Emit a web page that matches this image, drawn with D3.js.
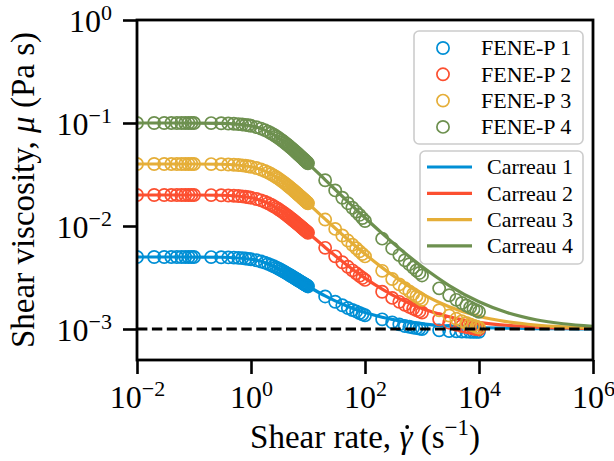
<!DOCTYPE html>
<html lang="en">

<head>
    <meta charset="UTF-8">
    <title>Shear viscosity: FENE-P vs Carreau</title>
    <!--D3 library-->
    <script src="https://cdn.jsdelivr.net/npm/d3@7"></script>
    <style>
        body { margin: 0; background: #fff; }
        svg { display: block; font-family: "Liberation Serif", "Times New Roman", serif; }
    </style>
</head>

<body>

</body>
<script>

    // FENE-P simulation points (shear rate in 1/s, viscosity in Pa s)
    const shearRateFene = [
        0.01, 0.02, 0.03, 0.04, 0.05, 0.06, 0.07, 0.08, 0.09,
        0.1, 0.2, 0.3, 0.4, 0.5, 0.6, 0.7, 0.8, 0.9,
        1, 1.25, 1.5, 1.75, 2, 2.25, 2.5, 2.75, 3, 3.25, 3.5, 3.75, 4, 4.25, 4.5, 4.75,
        5, 5.25, 5.5, 5.75, 6, 6.25, 6.5, 6.75, 7, 7.25, 7.5, 7.75, 8, 8.25, 8.5, 8.75, 9, 9.25, 9.5, 9.75,
        10, 20, 30, 40, 50, 60, 70, 80, 90,
        100, 200, 300, 400, 500, 600, 700, 800, 900,
        1000, 2000, 3000, 4000, 5000, 6000, 7000, 8000, 9000,
        10000
    ];

    const feneP1 = [
        0.005, 0.005, 0.005, 0.005, 0.005, 0.005, 0.005, 0.005, 0.005,
        0.004997, 0.004989, 0.004975, 0.004956, 0.004932, 0.004903, 0.004871, 0.004835, 0.004796,
        0.004754, 0.004643, 0.004524, 0.004405, 0.004287, 0.004174, 0.004065, 0.003963, 0.003867, 0.003777, 0.003692, 0.003614,
        0.00354, 0.003471, 0.003406, 0.003345, 0.003288, 0.003235, 0.003184, 0.003136, 0.003091, 0.003048, 0.003007, 0.002969,
        0.002932, 0.002897, 0.002864, 0.002832, 0.002802, 0.002773, 0.002745, 0.002718, 0.002693, 0.002668, 0.002644, 0.002622,
        0.00259, 0.00207, 0.00184, 0.0017, 0.0016, 0.00153, 0.00148, 0.00143, 0.00139,
        0.00136, 0.00124, 0.00116, 0.00111, 0.00107, 0.00105, 0.00103, 0.00102, 0.00101,
        0.001, 0.00097, 0.000955, 0.00095, 0.000945, 0.000942, 0.00094, 0.00094, 0.00094,
        0.00094
    ];

    const feneP2 = [
        0.02, 0.02, 0.02, 0.02, 0.02, 0.02, 0.02, 0.02, 0.02,
        0.01999, 0.01995, 0.01988, 0.01979, 0.01968, 0.01954, 0.01939, 0.01922, 0.01903,
        0.01883, 0.0183, 0.01774, 0.01717, 0.01661, 0.01607, 0.01556, 0.01508, 0.01462, 0.01419, 0.01379, 0.01341,
        0.01306, 0.01274, 0.01243, 0.01214, 0.01187, 0.01162, 0.01137, 0.01115, 0.01093, 0.01073, 0.01053, 0.01035,
        0.01018, 0.01001, 0.009854, 0.009704, 0.00956, 0.009421, 0.009288, 0.009161, 0.009041, 0.008923, 0.008811, 0.008703,
        0.0086, 0.006135, 0.005071, 0.004441, 0.004015, 0.003709, 0.003475, 0.003284, 0.00313,
        0.002997, 0.002301, 0.002005, 0.001835, 0.00172, 0.001637, 0.001574, 0.001523, 0.001482,
        0.001447, 0.001242, 0.001151, 0.001101, 0.001068, 0.001044, 0.001026, 0.001012, 0.000999,
        0.00099
    ];

    const feneP3 = [
        0.04, 0.04, 0.04, 0.04, 0.04, 0.04, 0.04, 0.04, 0.04,
        0.03997, 0.03989, 0.03975, 0.03957, 0.03933, 0.03906, 0.03874, 0.03839, 0.03801,
        0.03761, 0.03652, 0.03536, 0.0342, 0.03305, 0.03194, 0.03089, 0.02989, 0.02895, 0.02807, 0.02725, 0.02648,
        0.02577, 0.02509, 0.02446, 0.02387, 0.02331, 0.02279, 0.02229, 0.02183, 0.02139, 0.02097, 0.02057, 0.0202,
        0.01984, 0.0195, 0.01917, 0.01887, 0.01857, 0.01828, 0.01801, 0.01775, 0.0175, 0.01726, 0.01703, 0.01681,
        0.0166, 0.01155, 0.00937, 0.00809, 0.00722, 0.00658, 0.00608, 0.00568, 0.00535,
        0.00507, 0.00367, 0.00306, 0.00271, 0.00249, 0.00232, 0.00219, 0.00208, 0.002,
        0.00192, 0.00152, 0.00135, 0.001256, 0.001189, 0.001144, 0.001108, 0.001078, 0.001052,
        0.00103
    ];

    const feneP4 = [
        0.1, 0.1, 0.1, 0.1, 0.1, 0.1, 0.1, 0.1, 0.1,
        0.09993, 0.09972, 0.09938, 0.0989, 0.09831, 0.0976, 0.0968, 0.09591, 0.09494,
        0.09392, 0.09116, 0.08823, 0.08527, 0.08236, 0.07955, 0.07686, 0.07434, 0.07195, 0.06973, 0.06764, 0.06569,
        0.06387, 0.06215, 0.06055, 0.05904, 0.05764, 0.05631, 0.05505, 0.05387, 0.05275, 0.05169, 0.05068, 0.04973,
        0.04882, 0.04796, 0.04713, 0.04635, 0.0456, 0.04488, 0.04418, 0.04352, 0.0429, 0.04228, 0.0417, 0.04114,
        0.0406, 0.0278, 0.02216, 0.01882, 0.01665, 0.01504, 0.0138, 0.01281, 0.01193,
        0.01118, 0.00754, 0.00606, 0.00522, 0.00465, 0.00426, 0.00395, 0.0037, 0.0035,
        0.00331, 0.00248, 0.002126, 0.001918, 0.001787, 0.001691, 0.001617, 0.001558, 0.00151,
        0.001469
    ];

    // Carreau fits
    const shearRateCarreau = [0.01, 0.03, 0.1, 0.3, 1, 2, 3, 5, 10, 20, 30, 50, 100, 200, 300, 500,
        1000, 3000, 10000, 30000, 100000, 300000, 1000000];

    const carreau1 = [0.005, 0.005, 0.004997, 0.004975, 0.004754, 0.004287, 0.003867, 0.003288, 0.0026, 0.002094, 0.001873, 0.001656,
        0.001445, 0.001302, 0.001241, 0.001181, 0.001123, 0.001066, 0.001034, 0.001018, 0.001009, 0.001005, 0.001003];
    const carreau2 = [0.02, 0.02, 0.01999, 0.01988, 0.01883, 0.01661, 0.01462, 0.01187, 0.0086, 0.006197, 0.005148, 0.004118,
        0.003115, 0.002435, 0.002144, 0.001859, 0.001583, 0.001315, 0.00116, 0.001087, 0.001044, 0.001024, 0.001012];
    const carreau3 = [0.04, 0.04, 0.03997, 0.03975, 0.03761, 0.03305, 0.02895, 0.02331, 0.0166, 0.01167, 0.009514, 0.0074,
        0.005341, 0.003945, 0.003348, 0.002763, 0.002197, 0.001647, 0.001329, 0.001178, 0.001091, 0.001049, 0.001025];
    const carreau4 = [0.1, 0.1, 0.09993, 0.09938, 0.09392, 0.08236, 0.07195, 0.05764, 0.0406, 0.02808, 0.02261, 0.01725,
        0.01202, 0.008475, 0.00696, 0.005475, 0.004039, 0.002641, 0.001836, 0.001452, 0.001231, 0.001125, 0.001063];

    const solventViscosity = 0.001; // dashed reference line

    const feneLabels = ["FENE-P 1", "FENE-P 2", "FENE-P 3", "FENE-P 4"];
    const carreauLabels = ["Carreau 1", "Carreau 2", "Carreau 3", "Carreau 4"];

    const xTicks = [1e-2, 1e0, 1e2, 1e4, 1e6];
    const yTicks = [1e-3, 1e-2, 1e-1, 1e0];

    const colors = ["#008fd5", "#fc4f30", "#e5ae38", "#6d904f"];

    const feneSeries = [feneP1, feneP2, feneP3, feneP4];
    const carreauSeries = [carreau1, carreau2, carreau3, carreau4];

    const width = 614;
    const height = 461;
    const plotLeft = 137, plotRight = 593, plotTop = 20, plotBottom = 360;
    const markerR = 6.1;

    const svg = d3.select("body")
        .append("svg")
        .attr("width", width)
        .attr("height", height)
        .attr("viewBox", [0, 0, width, height]);

    const x = d3.scaleLog().domain([1e-2, 1e6]).range([plotLeft, plotRight]);
    const y = d3.scaleLog().domain([5e-4, 1]).range([plotBottom, plotTop]);

    //clip marks to the axes box like matplotlib does
    svg.append("clipPath").attr("id", "plot-clip")
        .append("rect")
        .attr("x", plotLeft).attr("y", plotTop)
        .attr("width", plotRight - plotLeft).attr("height", plotBottom - plotTop);

    const plot = svg.append("g").attr("clip-path", "url(#plot-clip)");

    const line = d3.line()
        .x(d => x(d[0]))
        .y(d => y(d[1]))
        .curve(d3.curveMonotoneX);

    //markers then the fitted line for every case
    feneSeries.forEach((vals, i) => {
        plot.append("g")
            .attr("fill", "none")
            .attr("stroke", colors[i])
            .attr("stroke-width", 1.7)
            .selectAll("circle")
            .data(shearRateFene.map((s, j) => [s, vals[j]]))
            .join("circle")
            .attr("cx", d => x(d[0]))
            .attr("cy", d => y(d[1]))
            .attr("r", markerR);

        plot.append("path")
            .datum(shearRateCarreau.map((s, j) => [s, carreauSeries[i][j]]))
            .attr("fill", "none")
            .attr("stroke", colors[i])
            .attr("stroke-width", 3.2)
            .attr("d", line);
    });

    //solvent viscosity
    plot.append("line")
        .attr("x1", x(1e-2)).attr("x2", x(1e6))
        .attr("y1", y(solventViscosity)).attr("y2", y(solventViscosity))
        .attr("stroke", "#000")
        .attr("stroke-width", 2.8)
        .attr("stroke-dasharray", "10.4,4.5");

    //10^n labels with a raised exponent
    function powerLabel(text, supSize, raise) {
        text.each(function (d) {
            const t = d3.select(this).text(null);
            const e = Math.round(Math.log10(d));
            t.append("tspan").text("10");
            t.append("tspan")
                .attr("dy", -raise)
                .attr("font-size", supSize)
                .text(e < 0 ? "\u2212" + (-e) : String(e));
        });
    }

    const xAxis = svg.append("g")
        .attr("transform", `translate(0,${plotBottom})`)
        .call(d3.axisBottom(x).tickValues(xTicks).tickSize(14).tickSizeOuter(0).tickFormat(""));
    xAxis.attr("font-family", null).attr("font-size", 32);
    xAxis.select(".domain").remove();
    xAxis.selectAll(".tick line").attr("stroke-width", 2.6);
    xAxis.selectAll(".tick text")
        .attr("y", 48).attr("dy", null)
        .attr("fill", "#000")
        .call(powerLabel, 22, 12);

    const yAxis = svg.append("g")
        .attr("transform", `translate(${plotLeft},0)`)
        .call(d3.axisLeft(y).tickValues(yTicks).tickSize(14).tickSizeOuter(0).tickFormat(""));
    yAxis.attr("font-family", null).attr("font-size", 32);
    yAxis.select(".domain").remove();
    yAxis.selectAll(".tick line").attr("stroke-width", 2.6);
    yAxis.selectAll(".tick text")
        .attr("x", -25).attr("dy", "0.37em")
        .attr("fill", "#000")
        .call(powerLabel, 22, 12);

    //axes frame
    svg.append("rect")
        .attr("x", plotLeft).attr("y", plotTop)
        .attr("width", plotRight - plotLeft).attr("height", plotBottom - plotTop)
        .attr("fill", "none")
        .attr("stroke", "#000")
        .attr("stroke-width", 2.8);

    //axis titles
    const xTitleY = 448;
    const xTitle = svg.append("text")
        .attr("x", (plotLeft + plotRight) / 2)
        .attr("y", xTitleY)
        .attr("text-anchor", "middle")
        .attr("font-size", 33);
    xTitle.append("tspan").text("Shear rate, ");
    xTitle.append("tspan").attr("font-style", "italic").text("\u03b3");
    xTitle.append("tspan").text(" (s");
    xTitle.append("tspan").attr("dy", -13).attr("font-size", 23).text("\u22121");
    xTitle.append("tspan").attr("dy", 13).text(")");

    //time-derivative dot above the gamma (character 12 of the title)
    const gammaBox = xTitle.node().getExtentOfChar(12);
    svg.append("circle")
        .attr("cx", gammaBox.x + gammaBox.width * 0.6)
        .attr("cy", xTitleY - 21)
        .attr("r", 1.9)
        .attr("fill", "#000");

    const yTitle = svg.append("text")
        .attr("transform", `translate(34,${(plotTop + plotBottom) / 2}) rotate(-90)`)
        .attr("text-anchor", "middle")
        .attr("font-size", 33);
    yTitle.append("tspan").text("Shear viscosity, ");
    yTitle.append("tspan").attr("font-style", "italic").text("\u03bc");
    yTitle.append("tspan").text(" (Pa s)");

    //legends: one for the markers, one for the fits
    function legendBox(x0, y0, w, h) {
        return svg.append("rect")
            .attr("x", x0).attr("y", y0)
            .attr("width", w).attr("height", h)
            .attr("rx", 5)
            .attr("fill", "#fff").attr("fill-opacity", 0.8)
            .attr("stroke", "#cccccc")
            .attr("stroke-width", 1.6);
    }

    legendBox(414, 31, 169, 113);
    const feneLegend = svg.append("g")
        .selectAll("g")
        .data(feneLabels)
        .join("g")
        .attr("transform", (d, i) => `translate(0,${48 + i * 26.3})`);
    feneLegend.append("circle")
        .attr("cx", 443).attr("r", markerR)
        .attr("fill", "none")
        .attr("stroke", (d, i) => colors[i])
        .attr("stroke-width", 1.7);
    feneLegend.append("text")
        .attr("x", 481).attr("dy", "0.33em")
        .attr("font-size", 22)
        .text(d => d);

    legendBox(420, 151, 163, 113);
    const carreauLegend = svg.append("g")
        .selectAll("g")
        .data(carreauLabels)
        .join("g")
        .attr("transform", (d, i) => `translate(0,${167 + i * 26.3})`);
    carreauLegend.append("line")
        .attr("x1", 427).attr("x2", 472)
        .attr("stroke", (d, i) => colors[i])
        .attr("stroke-width", 3.2);
    carreauLegend.append("text")
        .attr("x", 487).attr("dy", "0.33em")
        .attr("font-size", 22)
        .text(d => d);

</script>

</html>
